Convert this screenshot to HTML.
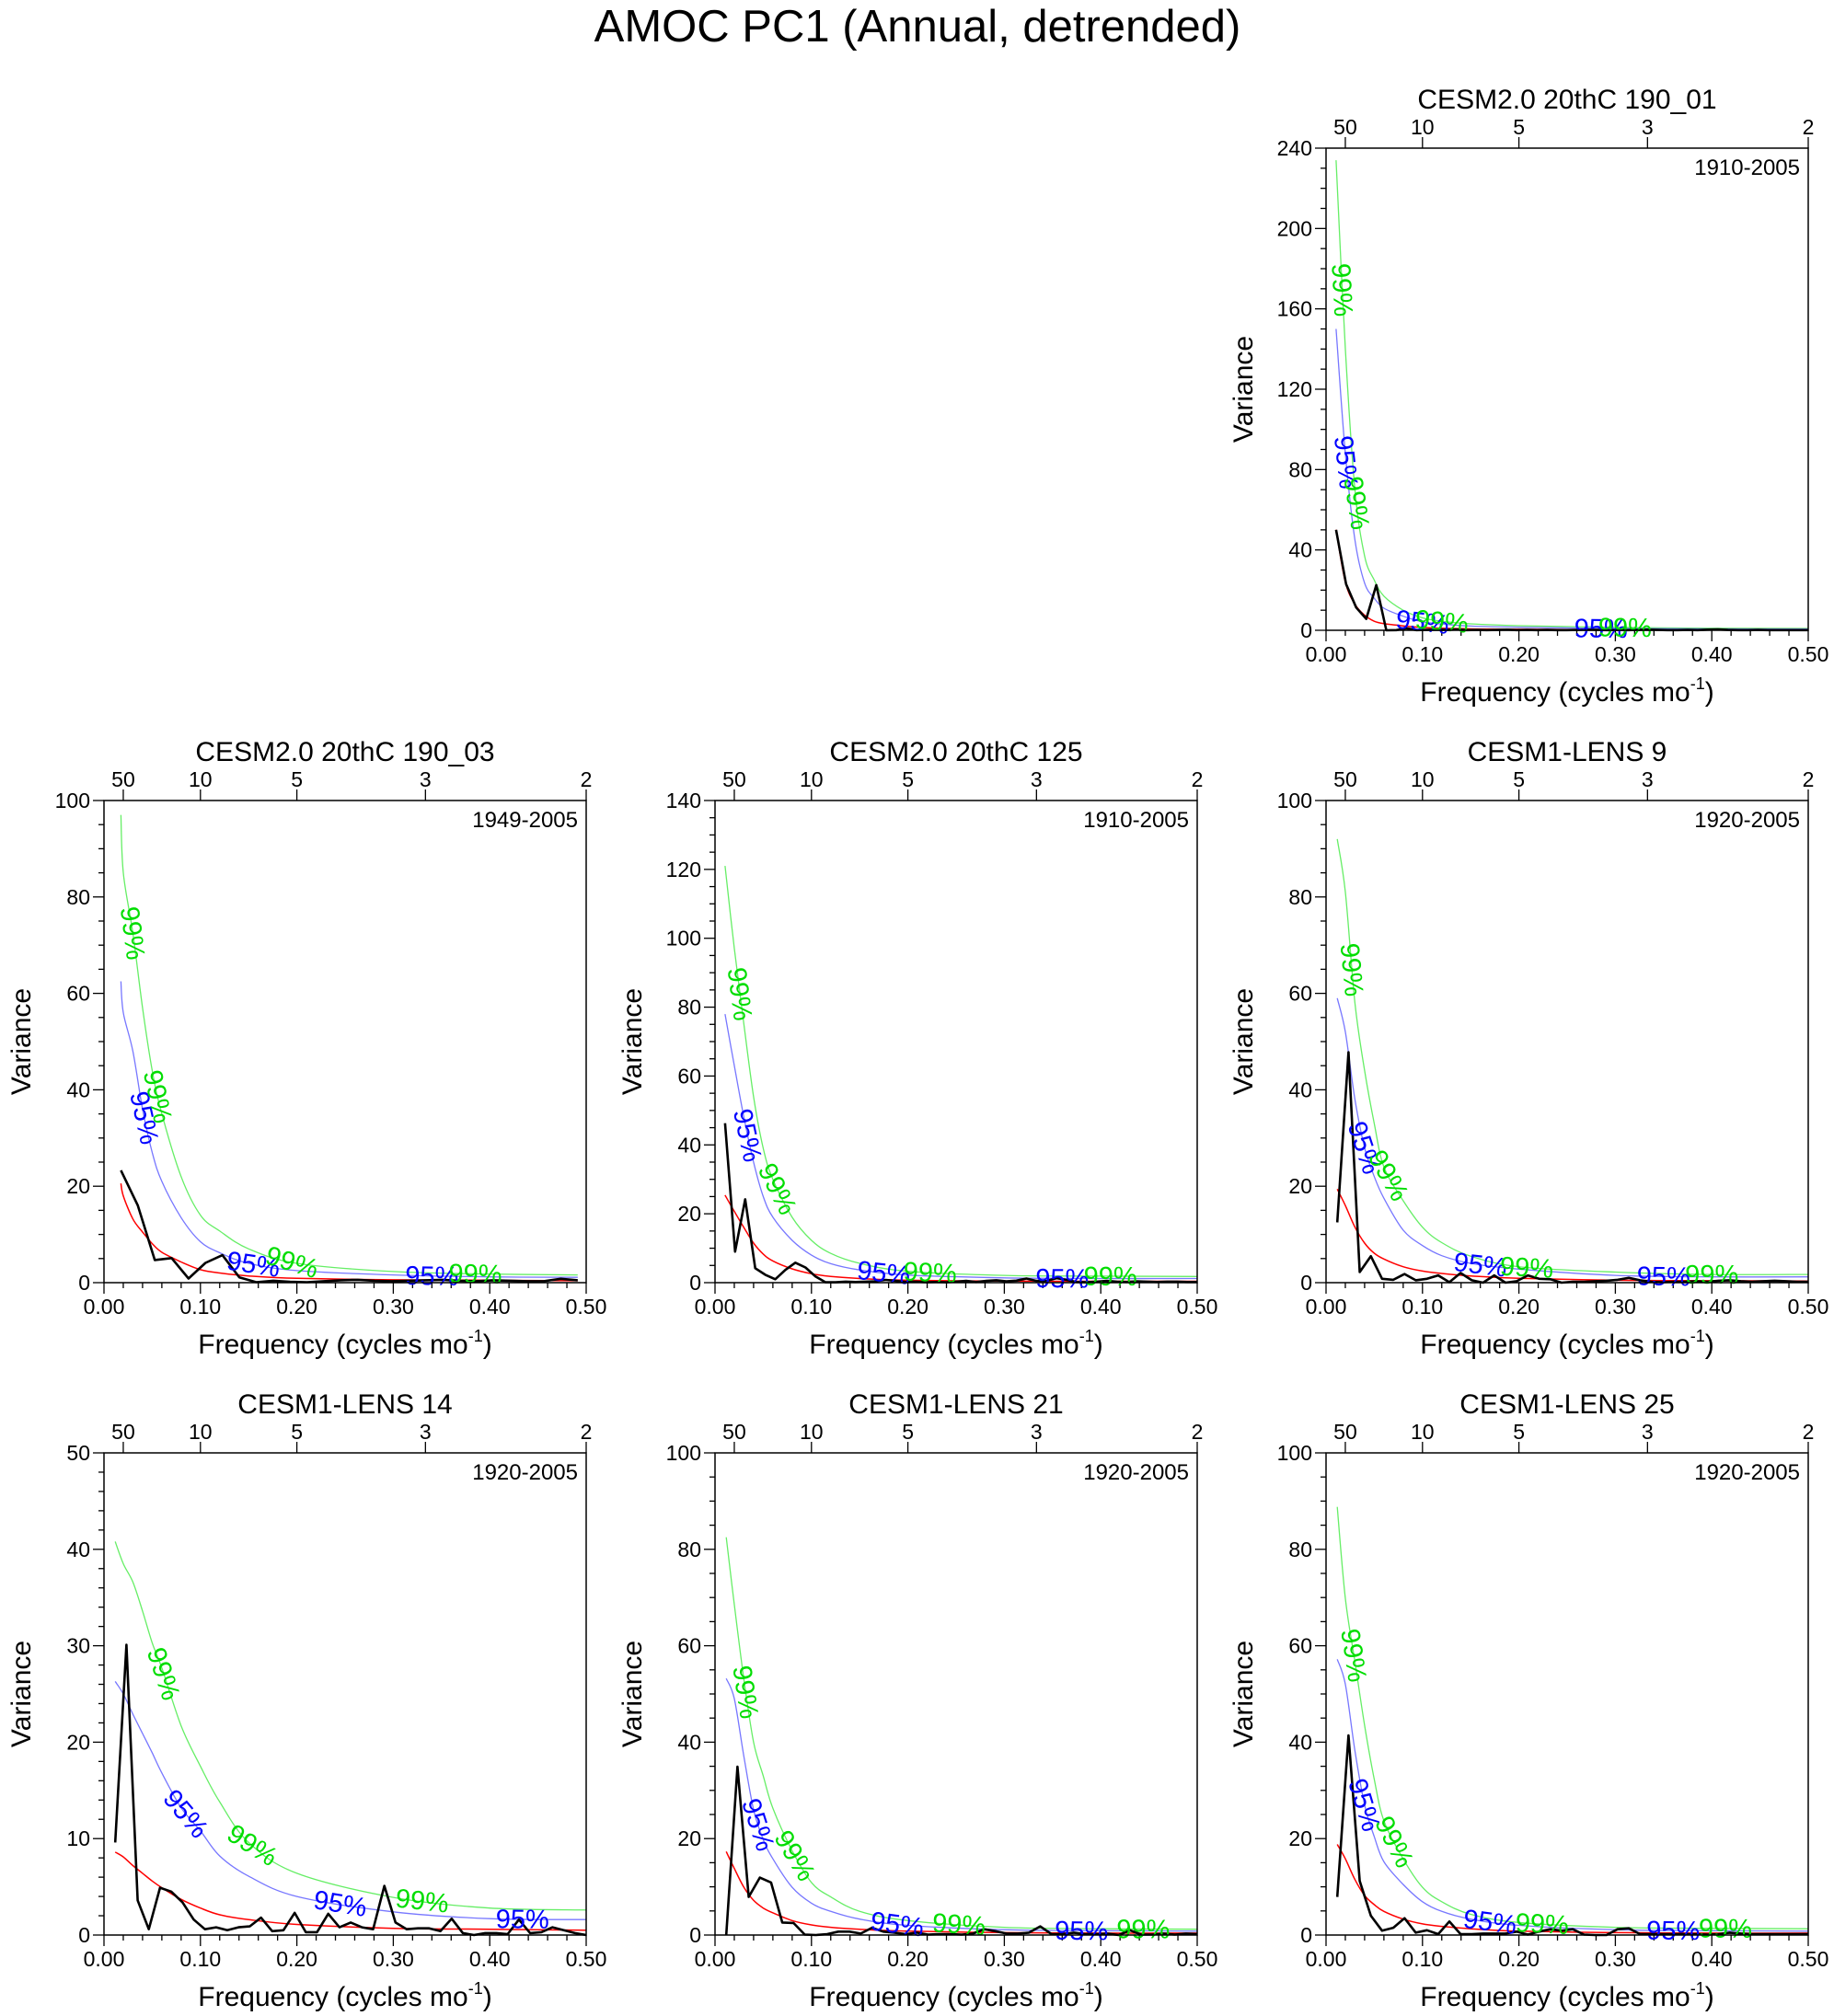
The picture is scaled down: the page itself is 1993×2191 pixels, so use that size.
<!DOCTYPE html>
<html><head><meta charset="utf-8"><title>AMOC PC1 (Annual, detrended)</title>
<style>html,body{margin:0;padding:0;background:#fff}svg{display:block;font-family:"Liberation Sans",Arial,sans-serif}</style>
</head><body>
<svg id="chart" width="1993" height="2191" viewBox="0 0 1993 2191" xmlns="http://www.w3.org/2000/svg">
<rect width="1993" height="2191" fill="#fff"/>
<text x="997" y="45" font-size="49" text-anchor="middle">AMOC PC1 (Annual, detrended)</text>
</svg>
<script>
// ---- shared axes data ----
const xTicks = [0, 0.1, 0.2, 0.3, 0.4, 0.5];
const xTickLabels = ["0.00","0.10","0.20","0.30","0.40","0.50"];
const periodTicks = [50, 10, 5, 3, 2];
const sigFreqs = [null, 0.02, 0.03, 0.04, 0.05, 0.06, 0.08, 0.10, 0.12, 0.15, 0.20, 0.30, 0.40, 0.50];

// ---- panel titles, periods, axes ----
const titles = ["CESM2.0 20thC 190_01","CESM2.0 20thC 190_03","CESM2.0 20thC 125","CESM1-LENS 9","CESM1-LENS 14","CESM1-LENS 21","CESM1-LENS 25"];
const years = ["1910-2005","1949-2005","1910-2005","1920-2005","1920-2005","1920-2005","1920-2005"];
const seriesLength = [96, 57, 96, 86, 86, 86, 86];
const yMax = [240, 100, 140, 100, 50, 100, 100];
const yMajor = [40, 20, 20, 20, 10, 20, 20];
const yMinor = [10, 5, 5, 5, 2, 5, 5];

// ---- spectra (black) ----
const spec0 = [50,23,11.3,5.7,22.5,0,0.1,1,0.1,0.2,0.3,0.2,0.4,0.1,0.2,0.1,0.2,0.3,0.1,0.2,0.1,0.2,0.1,0.1,0.2,0.3,0.2,0.1,0.2,0.1,0.2,0.3,0.2,0.1,0.1,0.2,0.1,0.3,0.4,0.2,0.1,0.1,0.2,0.1,0.1,0.1,0.1,0.1];
const spec1 = [23.3,16,4.7,5.1,0.85,4.1,5.7,1.1,0.1,0.4,0.2,0.1,0.3,0.5,0.6,0.4,0.3,0.4,0.5,0.6,0.4,0.3,0.5,0.4,0.3,0.3,0.8,0.5];
const spec2 = [46.3,9,24.2,4.2,2.3,1,3.7,5.8,4.4,1.8,0.1,0.1,0.3,0.2,0.3,0.4,0.8,0.5,0.2,0.3,0.1,0.2,0.1,0.3,0.5,0.2,0.5,0.7,0.4,0.6,1.2,0.5,0.5,1.3,0.8,0.2,0.1,0.3,0.5,0.3,0.2,0.4,0.3,0.2,0.3,0.3,0.2,0.2];
const spec3 = [12.5,47.8,2.2,5.5,0.8,0.6,1.8,0.5,0.8,1.5,0.1,2,0.5,0,1.5,0,0.3,1.5,0.8,0.7,0,0.2,0.2,0.3,0.4,0.6,1,0.5,0.2,0.1,0.2,0.2,0.3,0.2,0.4,0.5,0.3,0.2,0.3,0.4,0.3,0.2,0.2];
const spec4 = [9.6,30.1,3.6,0.6,4.9,4.5,3.4,1.6,0.6,0.8,0.5,0.8,0.9,1.8,0.4,0.5,2.3,0.3,0.3,2.2,0.8,1.3,0.8,0.6,5.1,1.3,0.6,0.7,0.7,0.4,1.7,0.2,0,0.2,0.2,0.1,1.6,0.2,0.3,0.8,0.5,0.2,0];
const spec5 = [0,34.9,7.9,11.9,10.9,2.6,2.5,0.1,0,0.2,0.7,0.7,0.3,1.5,0.7,0.5,0.2,0.5,0.1,0.2,0.2,0.1,0.3,1.2,0.8,0.3,0.3,0.5,1.8,0.2,0.2,0.5,0.2,0.2,0.3,0,1,0.1,0.1,0.3,0.1,0.3,0.2];
const spec6 = [7.9,41.4,11.2,4,0.9,1.5,3.5,0.5,1,0.2,2.8,0.2,0.2,0.3,0.3,0.3,0.7,0.1,0.7,1.2,0.9,1.2,0.1,0,0,1.2,1.4,0.2,0.2,0.2,0.2,0.2,0.2,0.1,0.2,0.5,0.3,0.2,0.2,0.2,0.2,0.2,0.2];

// ---- red noise, 95% and 99% curves (at sigFreqs; first = first spectral freq) ----
const red0 = [50,24,13,7.5,4.5,3.3,2.2,1.4,1.0,0.7,0.5,0.3,0.25,0.2];
const c95_0 = [150,88,45,23.5,16,11,7,4.2,3.1,2.1,1.5,0.9,0.7,0.6];
const c99_0 = [234,140,70,37,25,17,10,6.2,4.5,3.2,2.3,1.5,1,0.9];
const red1 = [20.6,18,13.2,10.5,8.1,6.3,4.3,2.7,2,1.4,0.9,0.6,0.5,0.4];
const c95_1 = [62.5,56,48,36,27,21,13.5,8.5,6.2,4,2.5,1.6,1.2,1.1];
const c99_1 = [97,85,72.5,57,44,35,22,14,10.7,7,4,2.3,1.8,1.6];
const red2 = [25.4,20.7,16,11.5,8.3,6.3,4,2.6,1.8,1.2,0.7,0.45,0.4,0.4];
const c95_2 = [78,63,48,35,25,19,12.3,8,5.5,3.7,2.2,1.4,1.2,1.2];
const c99_2 = [121,97,75,54,39,30,19,12.3,8.5,5.6,3.3,2.1,1.9,1.8];
const red3 = [19.4,16,11.5,8.2,6.1,4.9,3.3,2.4,1.9,1.4,0.9,0.5,0.4,0.35];
const c95_3 = [59,52,38,28,22,17.5,10.9,7.7,5.6,4,2.8,1.5,1.2,1.2];
const c99_3 = [92,81,58,44,33,24,17,11.5,8.3,5.5,3.3,2.2,1.7,1.7];
const red4 = [8.6,8.1,7.2,6.4,5.6,4.9,3.7,2.8,2.1,1.6,1.1,0.7,0.6,0.5];
const c95_4 = [26.3,25,22.9,20.9,18.9,16.8,13.2,10.8,8.2,6.1,4,2.4,1.7,1.6];
const c99_4 = [40.8,38.5,36.6,33.6,30.3,27.7,21.7,17.5,13.8,9.6,6.4,3.9,2.8,2.6];
const red5 = [17.3,13.8,9.9,7.2,5.6,4.6,3,2.1,1.6,1.2,0.8,0.5,0.4,0.4];
const c95_5 = [53.2,49,37,26,19.8,15.8,9.9,6.6,4.9,3.3,2,1.1,0.9,0.8];
const c99_5 = [82.5,68.5,53,40,33,26.3,17.5,10.9,7.9,4.9,3,1.6,1.3,1.2];
const red6 = [18.8,15.8,11.5,8.2,6.3,4.9,3.3,2.3,1.8,1.3,0.8,0.5,0.4,0.4];
const c95_6 = [57.2,52,38.2,27,20.4,15.2,10.5,6.9,4.9,3.3,2,1.1,0.9,0.8];
const c99_6 = [88.8,69.8,56.7,43.5,32.3,23.7,15.8,9.9,6.9,4.3,2.6,1.6,1.4,1.3];

// ---- label positions (frequency) ----
const lab95 = [[0.021,0.100,0.285],[0.042,0.155,0.34],[0.034,0.175,0.36],[0.04,0.16,0.35],[0.085,0.245,0.434],[0.045,0.189,0.38],[0.04,0.17,0.36]];
const lab99 = [[0.017,0.032,0.12,0.31],[0.03,0.056,0.195,0.385],[0.026,0.065,0.223,0.41],[0.027,0.065,0.208,0.40],[0.062,0.154,0.33],[0.032,0.083,0.253,0.444],[0.029,0.071,0.224,0.414]];

const specs=[spec0,spec1,spec2,spec3,spec4,spec5,spec6];
const reds=[red0,red1,red2,red3,red4,red5,red6];
const c95s=[c95_0,c95_1,c95_2,c95_3,c95_4,c95_5,c95_6];
const c99s=[c99_0,c99_1,c99_2,c99_3,c99_4,c99_5,c99_6];

const colsLeft=[113,777,1441], rowsTop=[161,870,1579], PW=524, PH=524;
const panelPos=[[2,0],[0,1],[1,1],[2,1],[0,2],[1,2],[2,2]];
const NS="http://www.w3.org/2000/svg";
const svg=document.getElementById('chart');
function mk(tag,attrs,parent,txt){const e=document.createElementNS(NS,tag);for(const k in attrs)e.setAttribute(k,attrs[k]);if(txt!==undefined)e.textContent=txt;parent.appendChild(e);return e;}

function interp(fs,vs,f){for(let i=0;i<fs.length-1;i++){if(f>=fs[i]&&f<=fs[i+1]){const t=(f-fs[i])/(fs[i+1]-fs[i]);return vs[i]+t*(vs[i+1]-vs[i]);}}return f<fs[0]?vs[0]:vs[vs.length-1];}
function smoothPath(pts){let d='M'+pts[0][0].toFixed(1)+','+pts[0][1].toFixed(1);
  for(let i=0;i<pts.length-1;i++){const p0=pts[Math.max(0,i-1)],p1=pts[i],p2=pts[i+1],p3=pts[Math.min(pts.length-1,i+2)];
    const c1=[p1[0]+(p2[0]-p0[0])/6,p1[1]+(p2[1]-p0[1])/6],c2=[p2[0]-(p3[0]-p1[0])/6,p2[1]-(p3[1]-p1[1])/6];
    d+='C'+c1[0].toFixed(1)+','+c1[1].toFixed(1)+' '+c2[0].toFixed(1)+','+c2[1].toFixed(1)+' '+p2[0].toFixed(1)+','+p2[1].toFixed(1);}
  return d;}

for(let p=0;p<7;p++){
  const L=colsLeft[panelPos[p][0]], T=rowsTop[panelPos[p][1]];
  const xs=f=>L+f/0.5*PW, ys=v=>T+PH-v/yMax[p]*PH;
  const g=mk('g',{},svg);
  
  
  const t=mk('text',{x:L+PW/2,y:T-43,'font-size':30,'text-anchor':'middle'},g,titles[p]);
   
  const yr=mk('text',{x:L+PW-9,y:T+29,'font-size':24,'text-anchor':'end'},g,years[p]);
   
  for(let v=0;v<=yMax[p]+1e-9;v+=yMinor[p]){
    const major=Math.abs(v/yMajor[p]-Math.round(v/yMajor[p]))<1e-6;
    const y=ys(v);
    const tk=mk('line',{x1:L-(major?12:6),x2:L,y1:y,y2:y,stroke:'#000','stroke-width':1.3},g);
     
    if(major){const tl=mk('text',{x:L-15,y:y+8,'font-size':23,'text-anchor':'end'},g,String(Math.round(v)));
       }
  }
  for(let i=0;i<=25;i++){const f=i*0.02,x=xs(f);const major=i%5===0;
    const tk=mk('line',{x1:x,x2:x,y1:T+PH,y2:T+PH+(major?12:6),stroke:'#000','stroke-width':1.3},g);
     }
  xTicks.forEach((f,i)=>{const tl=mk('text',{x:xs(f),y:T+PH+34,'font-size':23,'text-anchor':'middle'},g,xTickLabels[i]);
     });
  periodTicks.forEach(pd=>{const x=xs(1/pd);
    const tk=mk('line',{x1:x,x2:x,y1:T-12,y2:T,stroke:'#000','stroke-width':1.3},g);
     
    const tl=mk('text',{x:x,y:T-15,'font-size':23,'text-anchor':'middle'},g,String(pd));
     });
  const xl=mk('text',{x:L+PW/2,y:T+PH+77,'font-size':30,'text-anchor':'middle'},g);
   
  xl.appendChild(document.createTextNode('Frequency (cycles mo'));
  mk('tspan',{dy:-13,'font-size':18},xl,'-1');
  mk('tspan',{dy:13},xl,')');
  const yl=mk('text',{x:0,y:0,'font-size':30,'text-anchor':'middle',transform:`translate(${L-80},${T+PH/2}) rotate(-90)`},g,'Variance');
   
  const df=1/seriesLength[p];
  const sf=sigFreqs.slice(); sf[0]=df;
  const sfEnd=specs[p].length*df; sf[sf.length-1]=Math.min(0.5,Math.max(sfEnd,0.49));
  const sline=(fs,vs,color,w,name)=>{const e=mk('path',{d:smoothPath(fs.map((f,i)=>[xs(f),ys(vs[i])])),fill:'none',stroke:color,'stroke-width':w},g);
     };
  sline(sf,c99s[p],'#66ee66',1.3,'sig-99-line');
  sline(sf,c95s[p],'#7777ff',1.3,'sig-95-line');
  sline(sf,reds[p],'#ff0000',1.5,'red-noise-line');
  const sd=specs[p].map((v,i)=>(i?'L':'M')+xs((i+1)*df).toFixed(1)+','+ys(v).toFixed(1)).join('');
  const sp=mk('path',{d:sd,fill:'none',stroke:'#000','stroke-width':2.6,'stroke-linejoin':'round'},g);
   
  const addLab=(fl,vs,txt,col,name)=>fl.forEach(f=>{
    const x=xs(f),y=ys(interp(sf,vs,f));
    const x2=xs(f+0.004),y2=ys(interp(sf,vs,f+0.004));
    const ang=Math.atan2(y2-y,x2-x)*180/Math.PI;
    const e=mk('text',{x:0,y:10,'font-size':29,'text-anchor':'middle',fill:col,transform:`translate(${x.toFixed(1)},${y.toFixed(1)}) rotate(${ang.toFixed(1)})`},g,txt);
     });
  addLab(lab95[p],c95s[p],'95%','#0000ff','sig-95-label');
  addLab(lab99[p],c99s[p],'99%','#00dd00','sig-99-label');
  const fr=mk('rect',{x:L,y:T,width:PW,height:PH,fill:'none',stroke:'#000','stroke-width':1.5},g);
   
}
</script>
</body></html>
